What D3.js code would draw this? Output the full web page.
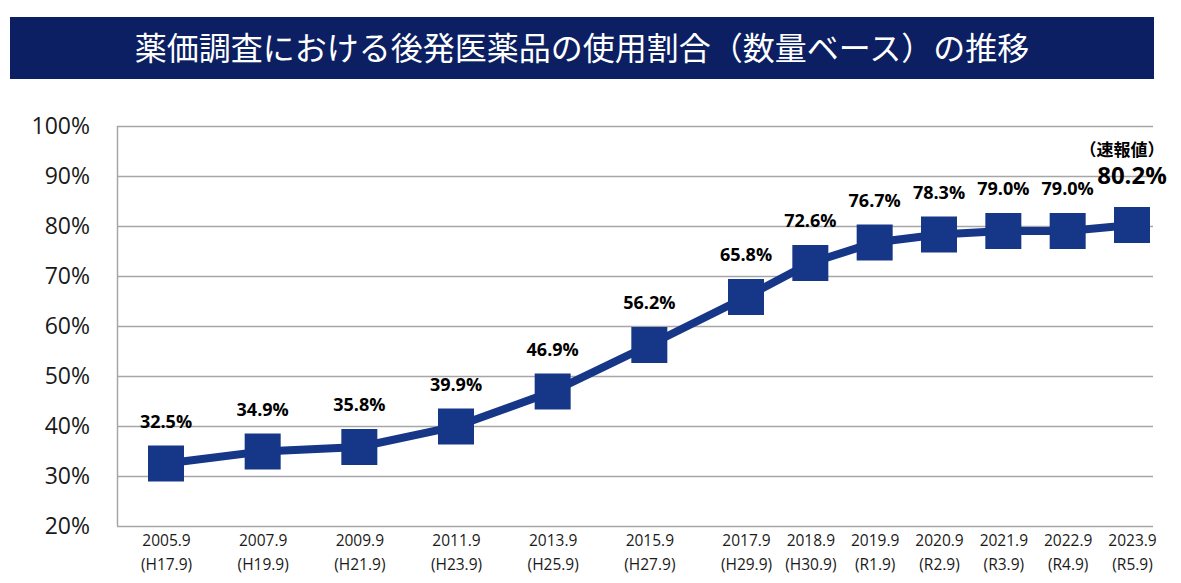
<!DOCTYPE html>
<html>
<head>
<meta charset="utf-8">
<script src="https://cdn.jsdelivr.net/npm/d3@7"></script>
<style>
  body { margin: 0; background: #fff; }
  svg { display: block; }
</style>
</head>
<body>
<div class="chart-container"></div>
<script>
// données
const titleText = '薬価調査における後発医薬品の使用割合（数量ベース）の推移';
const years = [2005.9, 2007.9, 2009.9, 2011.9, 2013.9, 2015.9, 2017.9, 2018.9, 2019.9, 2020.9, 2021.9, 2022.9, 2023.9];
const eraLabels = ['(H17.9)', '(H19.9)', '(H21.9)', '(H23.9)', '(H25.9)', '(H27.9)', '(H29.9)', '(H30.9)', '(R1.9)', '(R2.9)', '(R3.9)', '(R4.9)', '(R5.9)'];
const shares = [32.5, 34.9, 35.8, 39.9, 46.9, 56.2, 65.8, 72.6, 76.7, 78.3, 79.0, 79.0, 80.2];
const yTicks = [20, 30, 40, 50, 60, 70, 80, 90, 100];
const prelimNote = '（速報値）';

const width = 1181, height = 583;
const navy = '#163787';
const grid = '#a6a6a6';

const svg = d3.select('.chart-container')
    .append('svg')
    .attr('width', width)
    .attr('height', height);

// bandeau du titre
svg.append('rect')
    .attr('x', 10).attr('y', 17)
    .attr('width', 1144).attr('height', 62)
    .attr('fill', '#0b1f62');

svg.append('text')
    .attr('x', 582).attr('y', 60)
    .attr('text-anchor', 'middle')
    .attr('fill', '#fff')
    .attr('font-family', '"Noto Sans CJK JP", sans-serif')
    .attr('font-size', 32)
    .text(titleText);

const plot = { left: 117, right: 1153, top: 126, bottom: 526 };

// échelle x en deux morceaux (2 ans puis 1 an par pas)
const x = d3.scaleLinear()
    .domain([years[0], 2017.9, years[years.length - 1]])
    .range([166, 746, 1132]);

const y = d3.scaleLinear()
    .domain([20, 100])
    .range([plot.bottom, plot.top]);

// grille horizontale
svg.append('g')
    .selectAll('line')
    .data(yTicks)
    .enter()
    .append('line')
    .attr('x1', plot.left)
    .attr('x2', plot.right)
    .attr('y1', d => y(d) + 0.5)
    .attr('y2', d => y(d) + 0.5)
    .attr('stroke', grid)
    .attr('stroke-width', 1.5);

svg.append('line')
    .attr('x1', plot.left + 0.5).attr('x2', plot.left + 0.5)
    .attr('y1', plot.top).attr('y2', plot.bottom)
    .attr('stroke', grid)
    .attr('stroke-width', 1.5);

// axe Y
const yAxis = svg.append('g')
    .attr('transform', `translate(${plot.left},0)`)
    .call(d3.axisLeft(y).tickValues(yTicks).tickFormat(d => d + '%').tickSize(0).tickPadding(27));
yAxis.select('.domain').remove();
yAxis.selectAll('text')
    .attr('font-family', '"Open Sans", "Noto Sans", sans-serif')
    .attr('font-size', 23)
    .attr('fill', '#1a1a1a');

// axe X (deux lignes)
const xAxis = svg.append('g')
    .attr('transform', `translate(0,${plot.bottom})`)
    .call(d3.axisBottom(x).tickValues(years).tickFormat(d => d.toFixed(1)).tickSize(0).tickPadding(9));
xAxis.select('.domain').remove();
xAxis.selectAll('.tick text')
    .attr('font-family', '"Open Sans", "Noto Sans", sans-serif')
    .attr('font-size', 15.5)
    .attr('fill', '#1a1a1a')
    .each(function (d, i) {
        d3.select(this).append('tspan')
            .attr('x', 0)
            .attr('dy', '1.55em')
            .text(eraLabels[i]);
    });

const data = years.map((yr, i) => ({ year: yr, value: shares[i] }));

// ligne
svg.append('path')
    .datum(data)
    .attr('fill', 'none')
    .attr('stroke', navy)
    .attr('stroke-width', 8)
    .attr('d', d3.line().x(d => x(d.year)).y(d => y(d.value)));

// marqueurs carrés
const size = 36;
svg.selectAll('.marker')
    .data(data)
    .enter()
    .append('rect')
    .attr('class', 'marker')
    .attr('x', d => x(d.year) - size / 2)
    .attr('y', d => y(d.value) - size / 2)
    .attr('width', size)
    .attr('height', size)
    .attr('fill', navy);

// étiquettes des valeurs
const last = data.length - 1;
svg.selectAll('.label')
    .data(data.slice(0, last))
    .enter()
    .append('text')
    .attr('class', 'label')
    .attr('x', d => x(d.year))
    .attr('y', d => y(d.value) - 36)
    .attr('text-anchor', 'middle')
    .attr('font-family', '"Open Sans", "Noto Sans", sans-serif')
    .attr('font-weight', 'bold')
    .attr('font-size', 18)
    .attr('fill', '#000')
    .text(d => d.value.toFixed(1) + '%');

// dernière valeur (provisoire)
svg.append('text')
    .attr('x', x(data[last].year))
    .attr('y', 184)
    .attr('text-anchor', 'middle')
    .attr('font-family', '"Open Sans", "Noto Sans", sans-serif')
    .attr('font-weight', 'bold')
    .attr('font-size', 24)
    .attr('fill', '#000')
    .text(data[last].value.toFixed(1) + '%');

svg.append('text')
    .attr('x', x(data[last].year) - 10)
    .attr('y', 156)
    .attr('text-anchor', 'middle')
    .attr('font-family', '"Noto Sans CJK JP", sans-serif')
    .attr('font-weight', 'bold')
    .attr('font-size', 17)
    .attr('fill', '#000')
    .text(prelimNote);
</script>
</body>
</html>
